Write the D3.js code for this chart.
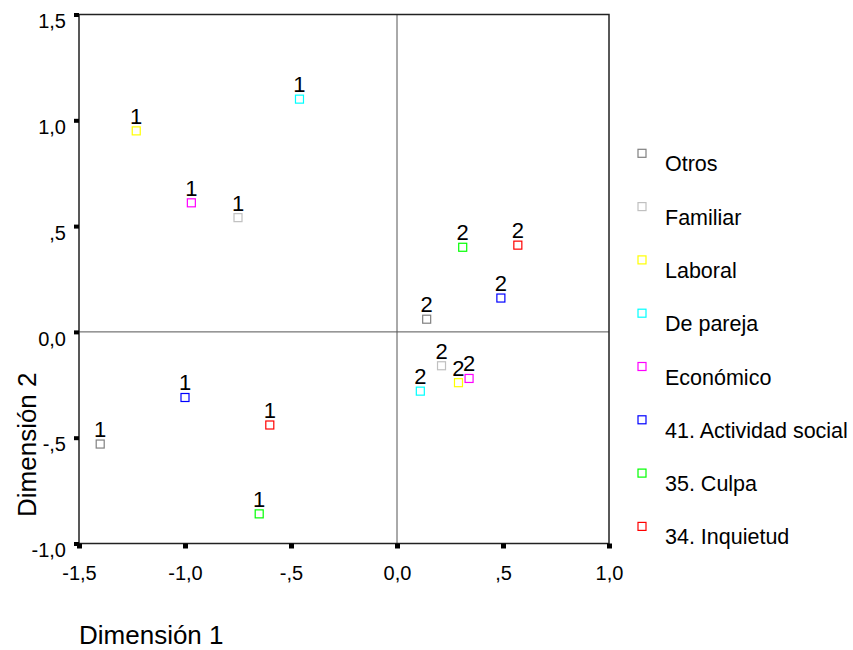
<!DOCTYPE html>
<html>
<head>
<meta charset="utf-8">
<script src="https://cdn.jsdelivr.net/npm/d3@7"></script>
<style>
  body { margin: 0; background: #fff; }
  text { font-family: Arial, "Liberation Sans", sans-serif; fill: #000; }
</style>
</head>
<body>
<svg id="chart"></svg>
<script>
var categories = ["Otros", "Familiar", "Laboral", "De pareja", "Económico",
                  "41. Actividad social", "35. Culpa", "34. Inquietud"];
var colors = ["#808080", "#c0c0c0", "#ffff00", "#00ffff", "#ff00ff",
              "#0000ff", "#00ff00", "#ff0000"];
// category point "1"
var level1X = [-1.40, -0.75, -1.23, -0.46, -0.97, -1.00, -0.65, -0.60];
var level1Y = [-0.53, 0.54, 0.95, 1.10, 0.61, -0.31, -0.86, -0.44];
// category point "2"
var level2X = [0.14, 0.21, 0.29, 0.11, 0.34, 0.49, 0.31, 0.57];
var level2Y = [0.06, -0.16, -0.24, -0.28, -0.22, 0.16, 0.40, 0.41];

var xTicks = [-1.5, -1.0, -0.5, 0, 0.5, 1.0];
var xTickLabels = ["-1,5", "-1,0", "-,5", "0,0", ",5", "1,0"];
var yTicks = [-1.0, -0.5, 0, 0.5, 1.0, 1.5];
var yTickLabels = ["-1,0", "-,5", "0,0", ",5", "1,0", "1,5"];

var svgWidth = 853, svgHeight = 650;
var plotLeft = 79, plotRight = 609, plotTop = 14.5, plotBottom = 543.5;

var svg = d3.select("#chart")
        .attr("width", svgWidth)
        .attr("height", svgHeight);

var x = d3.scaleLinear().domain([-1.5, 1.0]).range([plotLeft, plotRight]);
var y = d3.scaleLinear().domain([-1.0, 1.5]).range([plotBottom, plotTop]);

// reference lines through the origin
svg.append("line")
        .attr("x1", x(0)).attr("x2", x(0))
        .attr("y1", plotTop).attr("y2", plotBottom)
        .attr("stroke", "#555").attr("stroke-width", 1);
svg.append("line")
        .attr("x1", plotLeft).attr("x2", plotRight)
        .attr("y1", y(0)).attr("y2", y(0))
        .attr("stroke", "#555").attr("stroke-width", 1);

// frame
svg.append("rect")
        .attr("x", plotLeft).attr("y", plotTop)
        .attr("width", plotRight - plotLeft).attr("height", plotBottom - plotTop)
        .attr("fill", "none")
        .attr("stroke", "#222")
        .attr("stroke-width", 1.5);

var xAxis = svg.append("g")
        .attr("transform", "translate(0," + plotBottom + ")")
        .call(d3.axisBottom(x)
            .tickValues(xTicks)
            .tickSize(5)
            .tickFormat(function (d, i) { return xTickLabels[i]; }));
xAxis.select(".domain").remove();
xAxis.selectAll("line").attr("stroke", "#000").attr("stroke-width", 5);
xAxis.selectAll("text")
        .attr("y", 22)
        .attr("font-size", 20)
        .attr("font-family", "Arial, 'Liberation Sans', sans-serif");

var yAxis = svg.append("g")
        .attr("transform", "translate(" + plotLeft + ",0)")
        .call(d3.axisLeft(y)
            .tickValues(yTicks)
            .tickSize(5)
            .tickPadding(8)
            .tickFormat(function (d, i) { return yTickLabels[i]; }));
yAxis.select(".domain").remove();
yAxis.selectAll("line").attr("stroke", "#000").attr("stroke-width", 4);
yAxis.selectAll("text")
        .attr("dy", "0.66em")
        .attr("font-size", 20)
        .attr("font-family", "Arial, 'Liberation Sans', sans-serif");

// points
var points = [];
categories.forEach(function (c, i) {
    points.push({label: "1", x: level1X[i], y: level1Y[i], color: colors[i]});
    points.push({label: "2", x: level2X[i], y: level2Y[i], color: colors[i]});
});

var marker = 8;

svg.selectAll("rect.pt")
        .data(points)
        .enter()
        .append("rect")
        .attr("class", "pt")
        .attr("x", function (d) { return x(d.x) - marker / 2; })
        .attr("y", function (d) { return y(d.y) - marker / 2; })
        .attr("width", marker)
        .attr("height", marker)
        .attr("fill", "none")
        .attr("stroke", function (d) { return d.color; })
        .attr("stroke-width", 1.2);

svg.selectAll("text.pt")
        .data(points)
        .enter()
        .append("text")
        .attr("class", "pt")
        .attr("x", function (d) { return x(d.x); })
        .attr("y", function (d) { return y(d.y) - 7; })
        .attr("text-anchor", "middle")
        .attr("font-size", 22)
        .text(function (d) { return d.label; });

// legend
var legend = svg.selectAll("g.legend")
        .data(categories)
        .enter()
        .append("g")
        .attr("class", "legend")
        .attr("transform", function (d, i) {
            return "translate(642," + (153.3 + 53.3 * i) + ")";
        });
legend.append("rect")
        .attr("x", -marker / 2).attr("y", -marker / 2)
        .attr("width", marker).attr("height", marker)
        .attr("fill", "none")
        .attr("stroke", function (d, i) { return colors[i]; })
        .attr("stroke-width", 1.2);
legend.append("text")
        .attr("x", 23)
        .attr("y", 18)
        .attr("font-size", 21.5)
        .text(function (d) { return d; });

// axis titles
svg.append("text")
        .attr("x", 79)
        .attr("y", 644)
        .attr("font-size", 26)
        .text("Dimensión 1");
svg.append("text")
        .attr("transform", "translate(36,517) rotate(-90)")
        .attr("font-size", 26)
        .text("Dimensión 2");
</script>
</body>
</html>
